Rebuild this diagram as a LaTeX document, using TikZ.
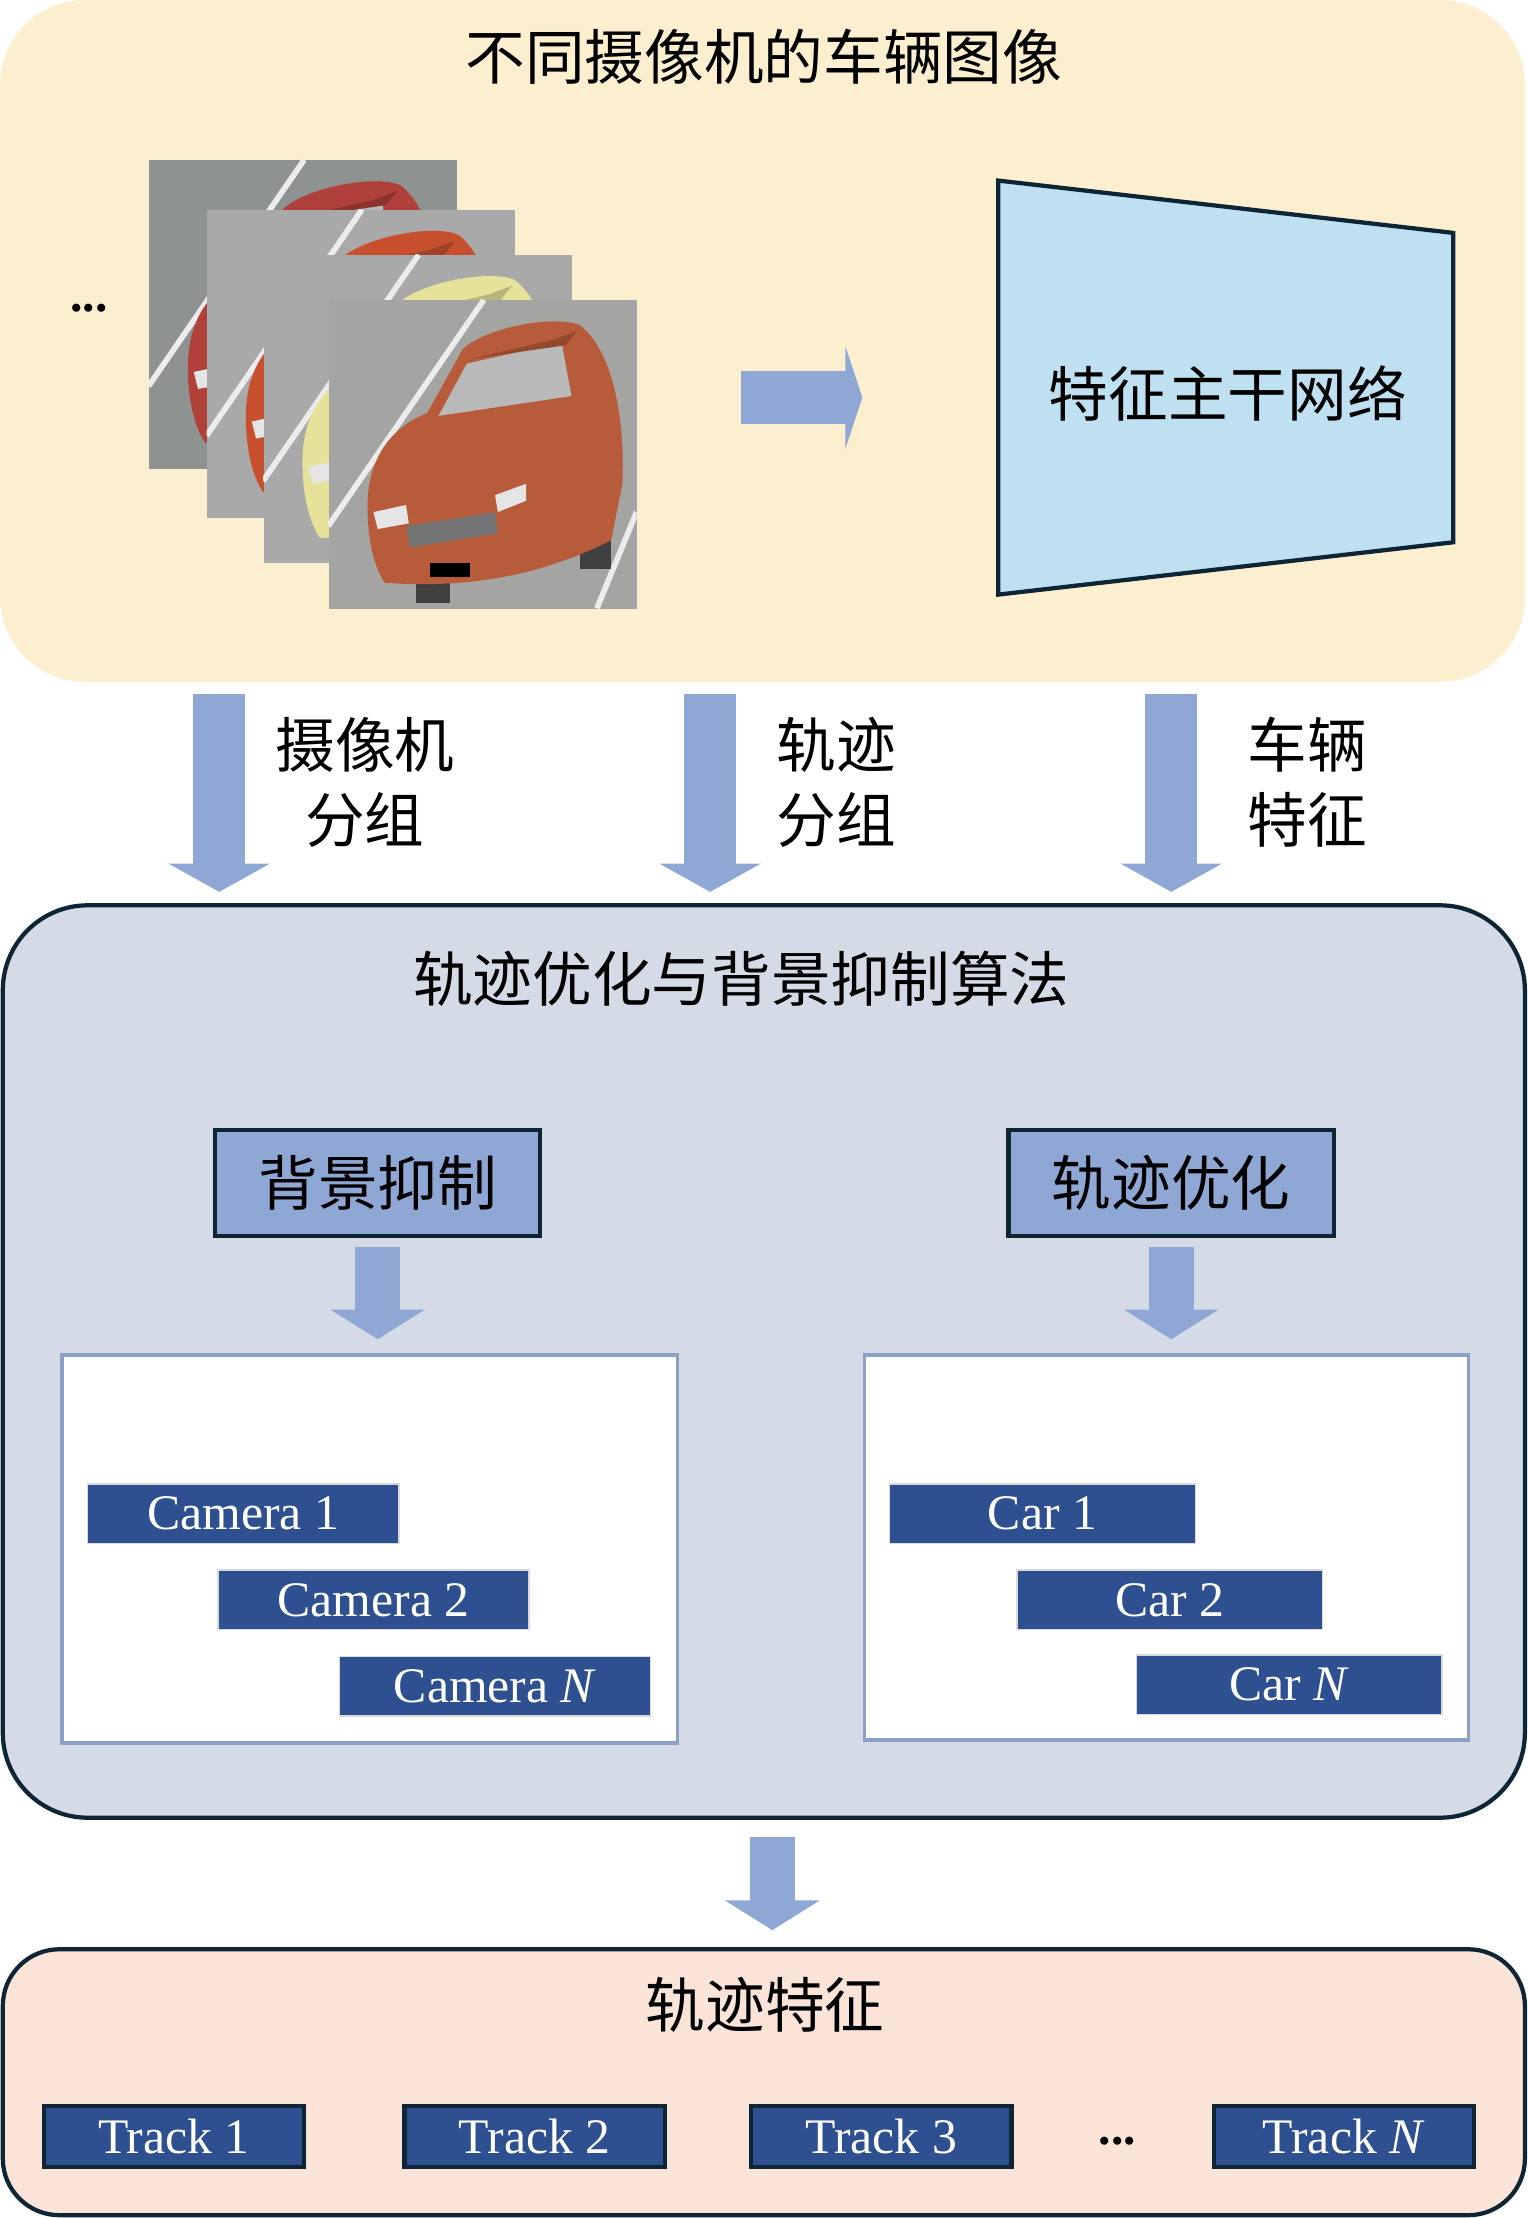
\documentclass[tikz,border=0pt]{standalone}
\usepackage{fontspec}
\setmainfont{Liberation Serif}
\newfontfamily\cjk{Noto Sans CJK SC}
\usepackage{tikz}
\usetikzlibrary{arrows.meta,positioning,calc}
\usepackage{xcolor}
\definecolor{topbg}{HTML}{FCEFCF}
\definecolor{midbg}{HTML}{D4DBE6}
\definecolor{botbg}{HTML}{FAE4D7}
\definecolor{arrowblue}{HTML}{8EA7D5}
\definecolor{boxblue}{HTML}{8EA7D5}
\definecolor{bardark}{HTML}{2E5090}
\definecolor{edgedark}{HTML}{0E2536}
\definecolor{netblue}{HTML}{BEE0F0}
\definecolor{lineblue}{HTML}{8C9FC6}
\definecolor{imgA}{HTML}{8E9290}
\definecolor{imgB}{HTML}{A9A9A9}
\definecolor{imgC}{HTML}{A4A4A2}
\definecolor{carA}{HTML}{B0403A}
\definecolor{carB}{HTML}{C8502E}
\definecolor{carC}{HTML}{E6E29A}
\definecolor{carD}{HTML}{B85B3A}

\begin{document}
\begin{tikzpicture}[x=0.2mm,y=-0.2mm]
    \tikzstyle{panel} = [rectangle,rounded corners=12mm,inner sep=0pt]
    \tikzstyle{zh} = [font=\cjk\fontsize{24pt}{30pt}\selectfont,align=center,inner sep=0pt]
    \tikzstyle{stage} = [draw=edgedark,line width=0.6mm,fill=boxblue,minimum width=46mm,minimum height=15mm,font=\cjk\fontsize{24pt}{30pt}\selectfont]
    \tikzstyle{group} = [draw=lineblue,line width=0.5mm,fill=white]
    \tikzstyle{bar} = [fill=bardark,draw=black!15,line width=0.2mm,text=white,font=\fontsize{20pt}{24pt}\selectfont,minimum height=8.4mm]
    \tikzstyle{track} = [bar,draw=edgedark,line width=0.6mm,minimum width=36.8mm,minimum height=8.6mm]
    \tikzstyle{photo} = [rectangle,minimum size=43.6mm,inner sep=0pt]
    \tikzstyle{bigarrow} = [arrowblue,line width=7.4mm,-{Triangle[width=14.2mm,length=4mm]}]
    \tikzstyle{slimarrow} = [arrowblue,line width=6.4mm,-{Triangle[width=13.2mm,length=4.2mm]}]
    \useasboundingbox (0,0) rectangle (1080,1568);

    % panels
    \node[panel,fill=topbg,minimum width=215.6mm,minimum height=96.4mm] (top) at (539,241) {};
    \node[panel,fill=midbg,draw=edgedark,line width=0.6mm,minimum width=215.2mm,minimum height=129mm] (mid) at (540,962.5) {};
    \node[panel,fill=botbg,draw=edgedark,line width=0.6mm,rounded corners=8mm,minimum width=215.2mm,minimum height=37.6mm] (bot) at (540,1472) {};

    \node[zh] (toptitle) at (540,40) {不同摄像机的车辆图像};
    \node[zh] (midtitle) at (524,692) {轨迹优化与背景抑制算法};
    \node[zh] (bottitle) at (541,1417) {轨迹特征};

    % vehicle images
    \node[font=\bfseries\fontsize{20pt}{24pt}\selectfont] (imgdots) at (63,218) {...};
    \foreach \px/\py/\bg/\body [count=\i] in {105/113/imgA/carA,146/148/imgB/carB,186/180/imgB/carC,232/212/imgC/carD}{
        \node[photo,fill=\bg,anchor=north west] (img\i) at (\px,\py) {};
        \begin{scope}[shift={(\px,\py)}]
            \clip (0,0) rectangle (218,218);
            \draw[white!85!gray,line width=0.8mm] (0,160) -- (110,0);
            \draw[white!85!gray,line width=0.8mm] (190,218) -- (218,150);
            \fill[black!75] (62,196) rectangle (86,214);
            \fill[black!75] (178,150) rectangle (200,190);
            \fill[\body] (28,140) .. controls (30,110) and (45,90) .. (70,80) -- (95,35) .. controls (110,20) and (160,10) .. (178,18) .. controls (200,35) and (210,80) .. (208,130) -- (200,170) .. controls (160,190) and (110,205) .. (40,200) .. controls (30,185) and (27,160) .. (28,140) -- cycle;
            \fill[gray!55] (78,82) -- (98,45) -- (165,30) -- (172,68) -- cycle;
            \fill[\body!80!black] (100,42) -- (160,28) -- (176,22) -- (168,32) -- cycle;
            \fill[white!80!gray] (32,150) -- (55,145) -- (57,158) -- (35,162) -- cycle;
            \fill[white!80!gray] (118,138) -- (140,130) -- (140,142) -- (120,150) -- cycle;
            \fill[black!55] (55,160) -- (118,150) -- (120,165) -- (58,175) -- cycle;
            \fill[black] (72,186) rectangle (100,196);
        \end{scope}
    }

    % backbone
    \node[minimum width=64.2mm,minimum height=58.4mm,inner sep=0pt] (backbone) at (866.5,274) {};
    \filldraw[fill=netblue,draw=edgedark,line width=0.6mm] (backbone.north west) -- ($(backbone.north east)+(0,37)$) -- ($(backbone.south east)+(0,-37)$) -- (backbone.south west) -- cycle;
    \node[zh] (bbtext) at (868,278) {特征主干网络};
    \draw[bigarrow,-{Triangle[width=14.4mm,length=2.4mm]}] ($(img4.east |- backbone.west)+(73,7)$) -- ($(backbone.west)+(-96,7)$);

    % top to middle
    \foreach \x/\n in {155/cam,502/trk,828/veh} \coordinate (col\n) at (\x,0);
    \draw[bigarrow] ($(top.south -| colcam)+(0,8)$) -- ($(mid.north -| colcam)+(0,-8)$);
    \draw[bigarrow] ($(top.south -| coltrk)+(0,8)$) -- ($(mid.north -| coltrk)+(0,-8)$);
    \draw[bigarrow] ($(top.south -| colveh)+(0,8)$) -- ($(mid.north -| colveh)+(0,-8)$);
    \node[zh] (lblcam) at (258,553) {摄像机\\分组};
    \node[zh] (lbltrk) at (591,553) {轨迹\\分组};
    \node[zh] (lblveh) at (924,553) {车辆\\特征};

    % middle panel
    \node[stage] (bgsup) at (267,836.5) {背景抑制};
    \node[stage] (trajopt) at (828,836.5) {轨迹优化};
    \node[group,minimum width=87mm,minimum height=54.8mm] (camgroup) at (261.5,1095) {};
    \node[group,minimum width=85.4mm,minimum height=54.4mm] (cargroup) at (824.5,1094) {};
    \draw[slimarrow] ($(bgsup.south)+(0,6)$) -- ($(camgroup.north -| bgsup.south)+(0,-10)$);
    \draw[slimarrow] ($(trajopt.south)+(0,6)$) -- ($(cargroup.north -| trajopt.south)+(0,-10)$);

    \node[bar,minimum width=44mm] (cam1) at (172,1070) {Camera 1};
    \node[bar,minimum width=44mm] (cam2) at (264,1131) {Camera 2};
    \node[bar,minimum width=44mm] (camN) at (350,1192) {Camera \textit{N}};
    \node[bar,minimum width=43.2mm] (car1) at (737,1070) {Car 1};
    \node[bar,minimum width=43.2mm] (car2) at (827,1131) {Car 2};
    \node[bar,minimum width=43.2mm] (carN) at (911.5,1191) {Car \textit{N}};

    % middle to bottom
    \draw[slimarrow] ($(mid.south)+(6,12)$) -- ($(bot.north)+(6,-12)$);

    \foreach \x/\t [count=\i] in {123/1,378/2,623/3}
        \node[track] (track\i) at (\x,1510.5) {Track \t};
    \node[font=\bfseries\fontsize{20pt}{24pt}\selectfont] (trackdots) at (790,1514) {...};
    \node[track] (trackN) at (950,1510.5) {Track \textit{N}};
\end{tikzpicture}
\end{document}
